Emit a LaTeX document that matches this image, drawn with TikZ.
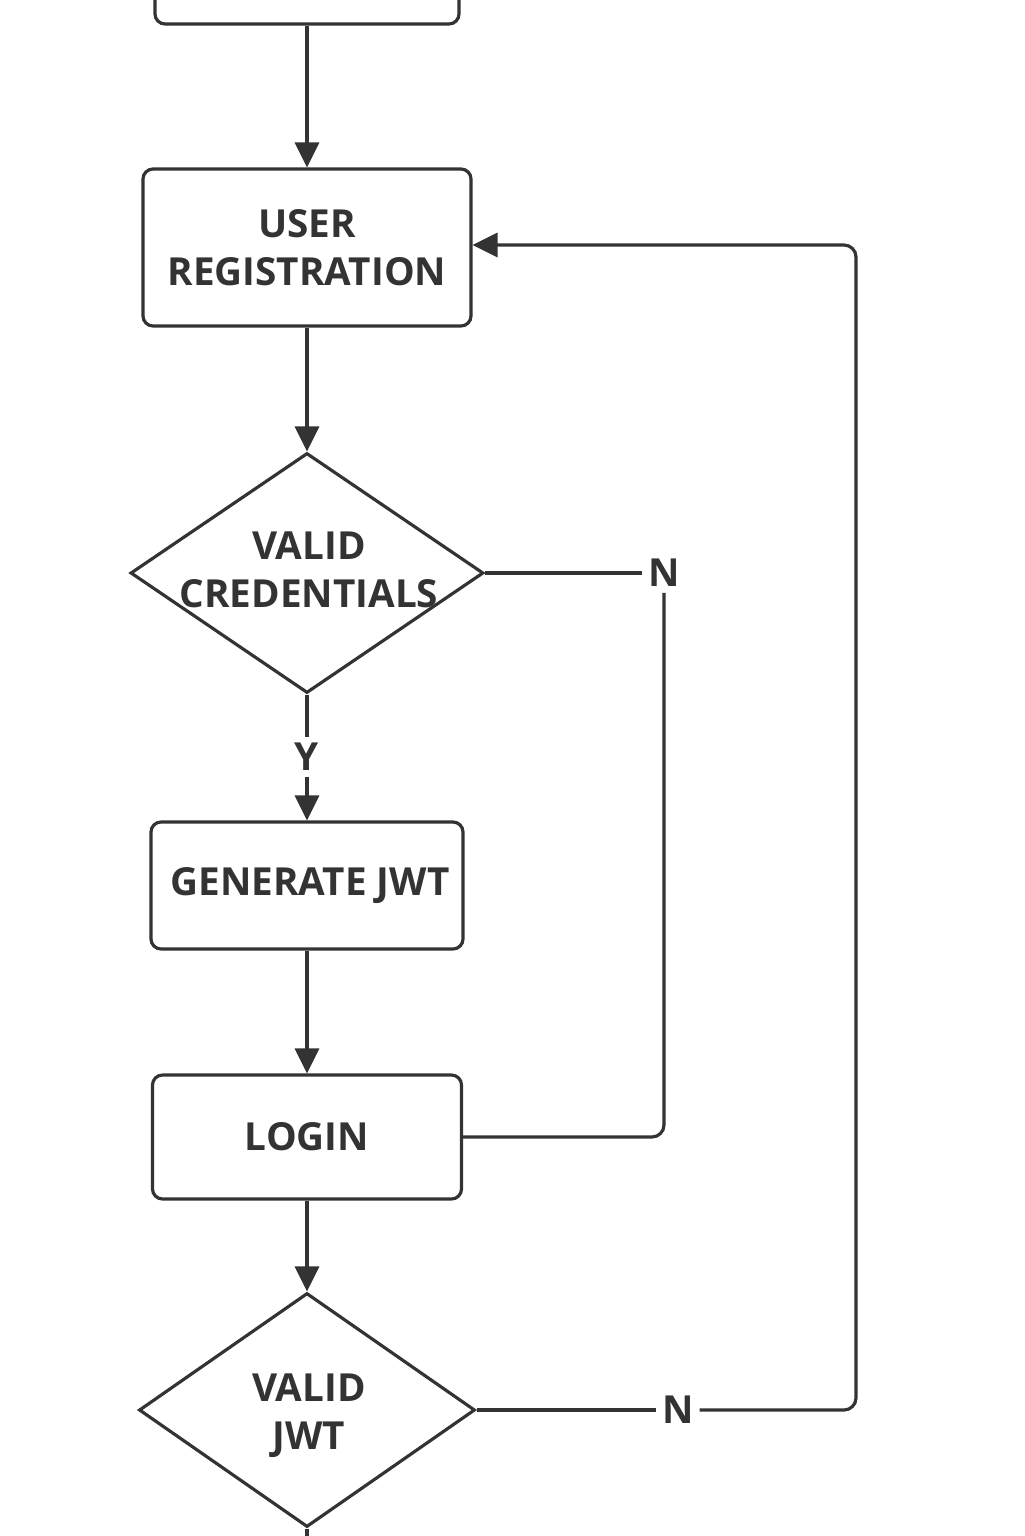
\documentclass[tikz,border=0pt]{standalone}
\usepackage{fontspec}
\setmainfont{Open Sans}
\usetikzlibrary{shapes.geometric,arrows.meta}
\definecolor{ink}{HTML}{333333}
\newcommand{\taillef}{\fontsize{11}{13.7}\selectfont\bfseries}
\tikzset{
  stepbox/.style={draw=ink,line width=0.9pt,rounded corners=0.1cm,text=ink,font=\taillef,align=center},
  decision/.style={draw=ink,line width=0.9pt,diamond,inner sep=0pt},
  decisiontext/.style={text=ink,font=\taillef,align=center,inner sep=0pt},
  answer/.style={text=ink,font=\taillef,inner sep=1.5pt},
  flow/.style={draw=ink,line width=0.9pt,rounded corners=0.12cm,-{Triangle[length=0.25cm,width=0.24cm]}},
  link/.style={draw=ink,line width=0.9pt,rounded corners=0.12cm}
}

\begin{document}
\begin{tikzpicture}
        \useasboundingbox (0,0) rectangle (10.24,-15.36);
        \clip (0,0) rectangle (10.24,-15.36);
        \node[stepbox,minimum width=3.04cm,minimum height=1.08cm] (top) at (3.07,0.30) {} ;
        \node[stepbox,minimum width=3.28cm,minimum height=1.57cm] (userreg) at (3.07,-2.475) {USER\\REGISTRATION} ;
        \draw[flow] (top) -- (userreg);
        \node[decision,minimum width=3.53cm,minimum height=2.40cm] (validcred) at (3.07,-5.73) {} ;
        \node[decisiontext] (validcredtext) at (3.09,-5.70) {VALID\\CREDENTIALS} ;
        \draw[flow] (userreg) -- (validcred);
        \node[answer] (ycred) at (3.07,-7.57) {Y} ;
        \draw[link] (validcred.south) -- (ycred);
        \node[stepbox,minimum width=3.12cm,minimum height=1.27cm] (genjwt) at (3.07,-8.855) {\hspace{0.06cm}GENERATE JWT} ;
        \draw[flow] (ycred) -- (genjwt);
        \node[stepbox,minimum width=3.09cm,minimum height=1.24cm] (login) at (3.07,-11.37) {LOGIN} ;
        \draw[flow] (genjwt) -- (login);
        \node[answer] (ncred) at (6.64,-5.73) {N} ;
        \draw[link] (validcred.east) -- (ncred);
        \draw[link] (ncred) |- (login.east);
        \node[decision,minimum width=3.36cm,minimum height=2.34cm] (validjwt) at (3.07,-14.10) {} ;
        \node[decisiontext] (validjwttext) at (3.09,-14.16) {VALID\\JWT} ;
        \draw[flow] (login) -- (validjwt);
        \coordinate (fin) at (3.07,-15.5);
        \draw[link] (validjwt.south) -- (fin);
        \node[answer] (njwt) at (6.78,-14.10) {N} ;
        \draw[link] (validjwt.east) -- (njwt);
        \coordinate (retour) at (8.56,-2.45);
        \draw[flow] (njwt) -| (retour) -- (userreg.east |- retour);
\end{tikzpicture}
\end{document}
